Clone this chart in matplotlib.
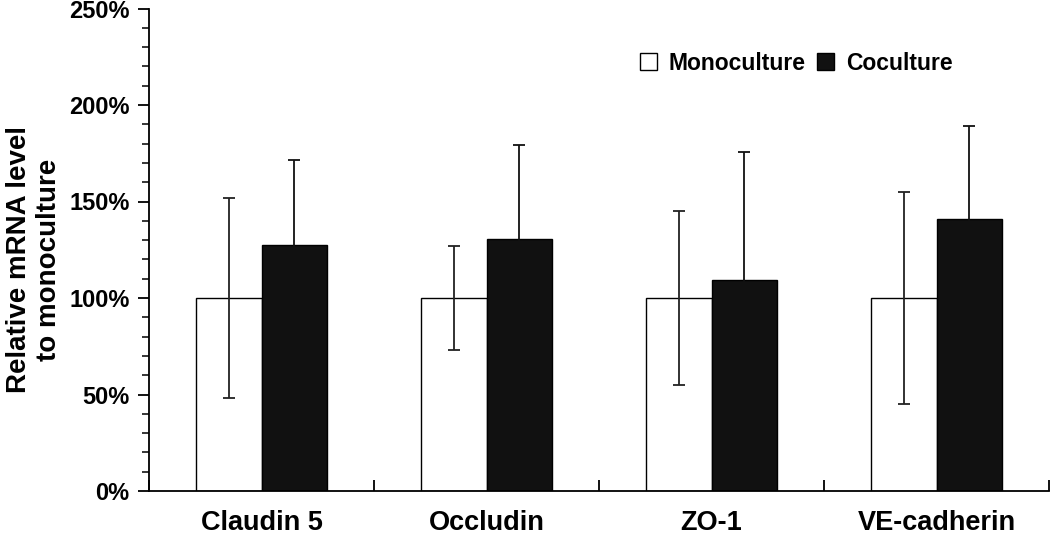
import numpy as np
import matplotlib.pyplot as plt
from matplotlib.ticker import MultipleLocator, PercentFormatter

plt.rcParams['font.family'] = ['Liberation Sans', 'DejaVu Sans']
plt.rcParams['font.weight'] = 'bold'

# data (percent relative to monoculture)
genes = ['Claudin 5', 'Occludin', 'ZO-1', 'VE-cadherin']
mono = [100, 100, 100, 100]
mono_err = [52, 27, 45, 55]
cocult = [127.5, 130.5, 109.5, 141]
cocult_err = [44, 49, 66, 48]

fig = plt.figure(figsize=(10.5, 5.36), dpi=100)
ax = fig.add_axes([149/1050, 1 - 491/536, 900/1050, 482.5/536])

x = np.arange(len(genes))
w = 0.29
ax.bar(x - w/2, mono, w, color='white', edgecolor='black', linewidth=1,
       label='Monoculture')
ax.bar(x + w/2, cocult, w, color='#111111', edgecolor='black', linewidth=1,
       label='Coculture')
ax.errorbar(x - w/2, mono, yerr=mono_err, fmt='none', ecolor='#222222',
            elinewidth=1.3, capsize=4, capthick=1.3)
ax.errorbar(x + w/2, cocult, yerr=cocult_err, fmt='none', ecolor='#111111',
            elinewidth=1.3, capsize=4, capthick=1.3)

ax.set_xlim(-0.5, 3.5)
ax.set_ylim(0, 250)
ax.spines['top'].set_visible(False)
ax.spines['right'].set_visible(False)
ax.spines['left'].set_linewidth(1.3)
ax.spines['bottom'].set_linewidth(1.3)

ax.yaxis.set_major_locator(MultipleLocator(50))
ax.yaxis.set_minor_locator(MultipleLocator(10))
ax.yaxis.set_major_formatter(PercentFormatter(decimals=0))
ax.tick_params(axis='y', which='major', length=8, width=1.3, direction='out',
               labelsize=17, pad=6)
ax.tick_params(axis='y', which='minor', length=5, width=1.1, direction='out')

ax.set_xticks(x)
ax.set_xticklabels(genes)
ax.set_xticks(np.arange(-0.5, 4, 1), minor=True)
ax.tick_params(axis='x', which='major', length=0, labelsize=19.5, pad=14)
ax.tick_params(axis='x', which='minor', length=8, width=1.3, direction='in')

ax.set_ylabel('Relative mRNA level\nto monoculture', fontsize=20, fontweight='bold',
              linespacing=1.2, va='center')
ax.yaxis.set_label_coords(-0.128, 0.48)

ax.legend(loc='center', bbox_to_anchor=(0.719, 0.887), ncol=2, frameon=False,
          fontsize=16.5, handlelength=0.75, handleheight=0.75, handletextpad=0.5,
          columnspacing=0.5)

fig.savefig('out.png', dpi=100)
